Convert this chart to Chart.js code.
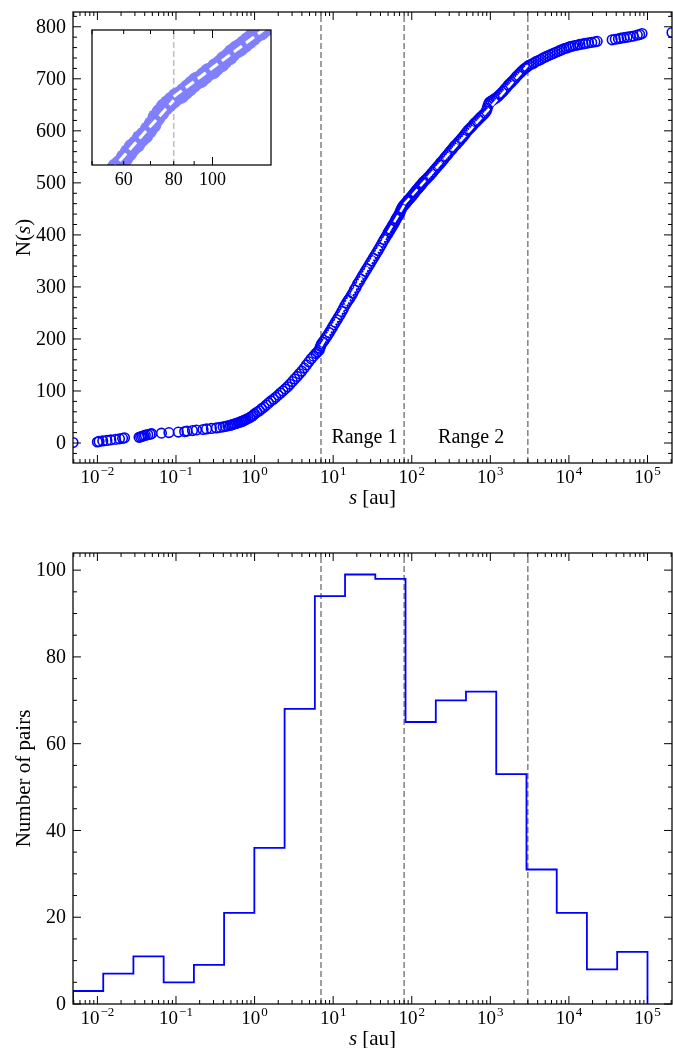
<!DOCTYPE html>
<html>
<head>
<meta charset="utf-8">
<script src="https://cdn.jsdelivr.net/npm/chart.js@4.4.1/dist/chart.umd.min.js"></script>
<style>
body{margin:0;background:#fff;}
#wrap{position:relative;width:673px;height:1048px;}
canvas{position:absolute;}
</style>
</head>
<body>
<div id="wrap">
<canvas id="cumChart" width="673" height="520" style="left:0;top:0"></canvas>
<canvas id="insetChart" width="190" height="170" style="left:86px;top:24px"></canvas>
<canvas id="histChart" width="673" height="528" style="left:0;top:520px"></canvas>
</div>
<script>
// separations s [au] and cumulative count N(s) (dense parts thinned)
const sepAu = [
  0.00489,0.0100,0.0105,0.0117,0.0132,0.0148,0.0170,0.0191,0.0209,0.0221,
  0.0339,0.0355,0.0372,0.0389,0.0407,0.0437,0.0468,0.0490,0.0653,0.0813,
  0.107,0.129,0.138,0.162,0.182,0.221,0.245,0.282,0.327,0.363,
  0.398,0.427,0.457,0.490,0.513,0.537,0.562,0.589,0.617,0.646,
  0.676,0.700,0.724,0.750,0.776,0.822,0.871,0.912,0.955,
  1.00,1.07,1.15,1.23,1.32,1.41,1.51,1.62,1.74,1.86,
  2.00,2.14,2.29,2.45,2.63,2.82,3.02,3.24,3.47,3.72,
  3.98,4.27,4.57,4.90,5.25,5.62,6.03,6.31,6.61,6.76,
  6.92,7.08,7.41,7.76,8.13,8.51,8.91,9.33,9.77,10.2,
  10.7,11.2,11.7,12.3,12.9,13.5,14.1,14.8,15.5,16.2,
  17.0,17.8,18.6,19.5,20.4,21.4,22.4,23.4,24.5,25.7,
  26.9,28.2,29.5,30.9,32.4,33.9,35.5,37.2,38.9,40.7,
  42.7,44.7,46.8,49.0,50.1,51.3,52.5,53.7,55.0,56.2,
  57.5,58.9,60.3,61.7,63.1,64.6,66.1,67.6,69.2,70.8,
  72.4,74.1,75.9,77.6,79.4,81.3,83.2,85.1,87.1,89.1,
  91.2,93.3,95.5,97.7,100,102,105,107,110,112,
  115,117,120,123,126,129,132,135,138,141,
  148,155,162,170,178,186,195,204,214,224,
  234,245,257,269,282,295,309,324,339,355,
  372,389,407,427,447,468,490,513,537,562,
  589,617,646,676,708,741,776,813,851,891,
  912,933,955,977,1023,1072,1122,1175,1230,1288,
  1349,1413,1479,1549,1622,1698,1778,1862,1950,2042,
  2138,2239,2344,2455,2570,2692,2818,2951,3090,3311,
  3548,3802,4074,4365,4677,5012,5370,5754,6166,6607,
  7079,7586,8128,8710,9333,10000,10500,11200,12000,12900,
  13800,15100,16200,17800,19500,21400,22900,35500,38900,42700,
  45700,50100,55000,60300,66100,74100,79400,85100,205000
];
const cumN = [
  1,2,3,4,5,6,7,8,9,10,
  11,12,13,14,15,16,17,18,19,20,
  21,22,23,24,25,26,27,28,29,30,
  31,32,33,34,35,36,37,38,39,40,
  41,42,43,44,45,47,49,51,53,
  56,59,62,66,69,73,77,81,84,88,
  92,96,100,104,108,113,118,123,128,133,
  138,144,150,156,162,167,172,175,178,182,
  186,190,194,198,203,207,212,217,222,227,
  232,237,242,247,253,258,264,269,274,278,
  283,288,294,299,305,310,315,320,325,330,
  335,340,345,350,355,360,365,370,375,380,
  386,391,396,401,404,406,409,411,414,416,
  419,421,424,427,430,432,435,437,440,443,
  447,450,453,455,457,459,460,462,464,466,
  468,469,471,473,474,476,478,480,482,484,
  486,487,489,491,493,495,496,498,500,502,
  505,508,511,514,518,521,525,528,532,535,
  539,542,546,550,553,557,561,564,568,572,
  574,578,581,585,588,592,596,600,603,606,
  609,613,616,619,622,625,628,631,634,638,
  643,648,652,655,657,659,661,663,665,668,
  671,674,677,681,684,688,691,694,697,700,
  704,707,710,713,716,719,721,723,726,728,
  730,733,735,737,740,742,744,746,748,750,
  752,754,756,758,759,761,762,763,764,765,
  766,767,768,769,770,771,772,775,776,777,
  778,779,780,781,782,784,785,787,789
];

// fitted lines over Range 1 and Range 2
const fit1S = [7, 80],   fit1N = [186, 457];
const fit2S = [80, 3000], fit2N = [459, 726];

// histogram of separations (lower panel)
const binEdges = [0.00489,0.01186,0.02871,0.06966,0.1690,0.4093,0.9931,2.410,5.848,14.16,
                  34.36,83.37,202.3,489.8,1189,2884,6998,16940,41110,100000];
const pairCounts = [3,7,11,5,9,21,36,68,94,99,98,65,70,72,53,31,21,8,12];

const rangeLimits = [7, 80, 3000];
const decadeTicks = [1e-2,1e-1,1,1e1,1e2,1e3,1e4,1e5];
const cumTicks = [0,100,200,300,400,500,600,700,800];
const histTicks = [0,20,40,60,80,100];
const insetTicks = [60,80,100];

const BLUE = '#0000ff';
const FONT = "'Liberation Serif', 'DejaVu Serif', serif";

const cumPoints = sepAu.map((s, i) => ({x: s, y: cumN[i]}));
const fit1 = fit1S.map((s, i) => ({x: s, y: fit1N[i]}));
const fit2 = fit2S.map((s, i) => ({x: s, y: fit2N[i]}));
const histPoints = [{x: binEdges[0], y: 0}];
pairCounts.forEach((c, i) => histPoints.push({x: binEdges[i], y: c}));
histPoints.push({x: binEdges[binEdges.length-1], y: pairCounts[pairCounts.length-1]});
histPoints.push({x: binEdges[binEdges.length-1], y: 0});

// matplotlib-like frame: inward ticks on all sides, dashed markers, labels, titles
const axesStyle = {
  id: 'axesStyle',
  beforeDatasetsDraw(chart, args, o) {
    if (!o.vlines) return;
    const {ctx, chartArea: a} = chart;
    const xs = chart.scales.x;
    ctx.save();
    ctx.beginPath(); ctx.rect(a.left, a.top, a.right-a.left, a.bottom-a.top); ctx.clip();
    ctx.strokeStyle = o.vlineColor; ctx.lineWidth = o.vlineWidth; ctx.setLineDash(o.vlineDash);
    o.vlines.forEach(v => {
      const px = xs.getPixelForValue(v);
      ctx.beginPath(); ctx.moveTo(px, a.bottom); ctx.lineTo(px, a.top); ctx.stroke();
    });
    ctx.restore();
  },
  afterDraw(chart, args, o) {
    const {ctx, chartArea: a} = chart;
    const xs = chart.scales.x, ys = chart.scales.y;
    ctx.save();
    ctx.strokeStyle = '#000'; ctx.lineWidth = 1;
    const seg = (x1, y1, x2, y2) => { ctx.beginPath(); ctx.moveTo(x1, y1); ctx.lineTo(x2, y2); ctx.stroke(); };
    const k0 = Math.floor(Math.log10(xs.min)), k1 = Math.ceil(Math.log10(xs.max));
    for (let k = k0; k <= k1; k++) {
      for (let m = 1; m < 10; m++) {
        const v = m * Math.pow(10, k);
        if (v < xs.min * 0.9999 || v > xs.max * 1.0001) continue;
        const px = xs.getPixelForValue(v);
        const len = m === 1 ? 8 : 4;
        seg(px, a.bottom, px, a.bottom - len);
        seg(px, a.top, px, a.top + len);
      }
    }
    if (o.yMinor) {
      for (let v = Math.ceil(ys.min / o.yMinor) * o.yMinor; v <= ys.max; v += o.yMinor) {
        const py = ys.getPixelForValue(v);
        const r = v / o.yMajor;
        const len = Math.abs(r - Math.round(r)) < 1e-6 ? 8 : 4;
        seg(a.left, py, a.left + len, py);
        seg(a.right, py, a.right - len, py);
      }
    }
    ctx.lineWidth = 1.25;
    ctx.strokeRect(a.left, a.top, a.right - a.left, a.bottom - a.top);

    ctx.fillStyle = '#000';
    if (o.yLabels) {
      ctx.font = '20px ' + FONT; ctx.textAlign = 'right'; ctx.textBaseline = 'middle';
      o.yLabels.forEach(v => ctx.fillText(String(v), a.left - 7, ys.getPixelForValue(v) + 1));
    }
    if (o.powLabels) {
      ctx.textAlign = 'left'; ctx.textBaseline = 'alphabetic';
      o.powLabels.forEach(v => {
        const e = Math.round(Math.log10(v));
        const sup = e < 0 ? '\u2212' + (-e) : String(e);
        ctx.font = '19px ' + FONT; const wb = ctx.measureText('10').width;
        ctx.font = '13px ' + FONT; const ws = ctx.measureText(sup).width;
        const x0 = xs.getPixelForValue(v) - (wb + ws + 1) / 2;
        ctx.font = '19px ' + FONT; ctx.fillText('10', x0, a.bottom + 20);
        ctx.font = '13px ' + FONT; ctx.fillText(sup, x0 + wb + 1, a.bottom + 12);
      });
    }
    const drawParts = (parts, x, y, rot) => {
      ctx.save(); ctx.translate(x, y); if (rot) ctx.rotate(-Math.PI / 2);
      ctx.textAlign = 'left'; ctx.textBaseline = 'middle';
      let total = 0;
      parts.forEach(p => { ctx.font = (p.it ? 'italic ' : '') + '21px ' + FONT; p.w = ctx.measureText(p.t).width; total += p.w; });
      let cx = -total / 2;
      parts.forEach(p => { ctx.font = (p.it ? 'italic ' : '') + '21px ' + FONT; ctx.fillText(p.t, cx, 0); cx += p.w; });
      ctx.restore();
    };
    if (o.xTitle) drawParts(o.xTitle, (a.left + a.right) / 2, a.bottom + 35, false);
    if (o.yTitle) drawParts(o.yTitle, 24, (a.top + a.bottom) / 2, true);
    if (o.notes) {
      ctx.font = '20px ' + FONT; ctx.textAlign = 'center'; ctx.textBaseline = 'middle';
      o.notes.forEach(n => ctx.fillText(n.text, xs.getPixelForValue(n.x), ys.getPixelForValue(n.y)));
    }
    ctx.restore();
  }
};

const common = {
  responsive: false, animation: false, devicePixelRatio: 1, events: []
};
const xLog = (h) => ({
  type: 'logarithmic', min: sepAu[0], max: sepAu[sepAu.length - 1],
  grid: {display: false, drawTicks: false}, border: {display: false},
  ticks: {display: false}, afterFit(s) { s.height = h; }
});
const yLin = (min, max) => ({
  type: 'linear', min: min, max: max,
  grid: {display: false, drawTicks: false}, border: {display: false},
  ticks: {display: false},
  afterFit(s) { s.width = 73; }
});
const dashStyle = {vlines: rangeLimits, vlineColor: '#808080', vlineWidth: 1.5, vlineDash: [6, 3]};

// lower "order" is drawn on top
new Chart(document.getElementById('cumChart'), {
  type: 'scatter',
  data: {datasets: [
    {data: cumPoints, order: 2, pointRadius: 4.8, borderWidth: 1.6, borderColor: BLUE, backgroundColor: 'rgba(0,0,0,0)', clip: 0},
    {data: fit1, order: 1, showLine: true, borderColor: '#fff', borderWidth: 2.5, borderDash: [8, 4], pointRadius: 0, clip: 0},
    {data: fit2, order: 1, showLine: true, borderColor: '#fff', borderWidth: 2.5, borderDash: [8, 4], pointRadius: 0, clip: 0}
  ]},
  options: Object.assign({}, common, {
    layout: {autoPadding: false, padding: {left: 0, right: 1, top: 12, bottom: 0}},
    plugins: {legend: {display: false}, tooltip: {enabled: false},
      axesStyle: Object.assign({}, dashStyle, {
        yMajor: 100, yMinor: 20, powLabels: decadeTicks, yLabels: cumTicks,
        xTitle: [{t: 's', it: true}, {t: ' [au]'}],
        yTitle: [{t: 'N('}, {t: 's', it: true}, {t: ')'}],
        notes: [{text: 'Range 1', x: 25, y: 11}, {text: 'Range 2', x: 570, y: 11}]
      })},
    scales: {x: xLog(57), y: yLin(-38.4, 828.4)}
  }),
  plugins: [axesStyle]
});

new Chart(document.getElementById('insetChart'), {
  type: 'scatter',
  data: {datasets: [
    {data: cumPoints, order: 2, pointRadius: 9, borderWidth: 0, borderColor: '#8080ff', backgroundColor: '#8080ff', clip: 0},
    {data: fit1, order: 1, showLine: true, borderColor: '#fff', borderWidth: 3, borderDash: [10, 5], pointRadius: 0, clip: 0},
    {data: fit2, order: 1, showLine: true, borderColor: '#fff', borderWidth: 3, borderDash: [10, 5], pointRadius: 0, clip: 0}
  ]},
  options: Object.assign({}, common, {
    layout: {autoPadding: false, padding: {left: 6, right: 5, top: 6, bottom: 0}},
    plugins: {legend: {display: false}, tooltip: {enabled: false},
      axesStyle: {vlines: [80], vlineColor: 'rgba(128,128,128,0.5)', vlineWidth: 1.5, vlineDash: [6, 3]}},
    scales: {
      x: {type: 'logarithmic', min: 50, max: 140,
        grid: {display: false, drawTicks: false}, border: {display: false},
        ticks: {font: {family: FONT, size: 18}, color: '#000', padding: 4, autoSkip: false, maxRotation: 0,
          callback: v => String(v)},
        afterBuildTicks(s) { s.ticks = insetTicks.map(v => ({value: v})); },
        afterFit(s) { s.height = 29; }},
      y: {display: false, min: 420, max: 497}
    }
  }),
  plugins: [axesStyle]
});

new Chart(document.getElementById('histChart'), {
  type: 'scatter',
  data: {datasets: [
    {data: histPoints, showLine: true, stepped: 'before', borderColor: BLUE, borderWidth: 1.8, pointRadius: 0, clip: 0}
  ]},
  options: Object.assign({}, common, {
    layout: {autoPadding: false, padding: {left: 0, right: 1, top: 33, bottom: 0}},
    plugins: {legend: {display: false}, tooltip: {enabled: false},
      axesStyle: Object.assign({}, dashStyle, {
        yMajor: 20, yMinor: 5, powLabels: decadeTicks, yLabels: histTicks,
        xTitle: [{t: 's', it: true}, {t: ' [au]'}],
        yTitle: [{t: 'Number of pairs'}]
      })},
    scales: {x: xLog(44), y: yLin(0, 103.95)}
  }),
  plugins: [axesStyle]
});
</script>
</body>
</html>
